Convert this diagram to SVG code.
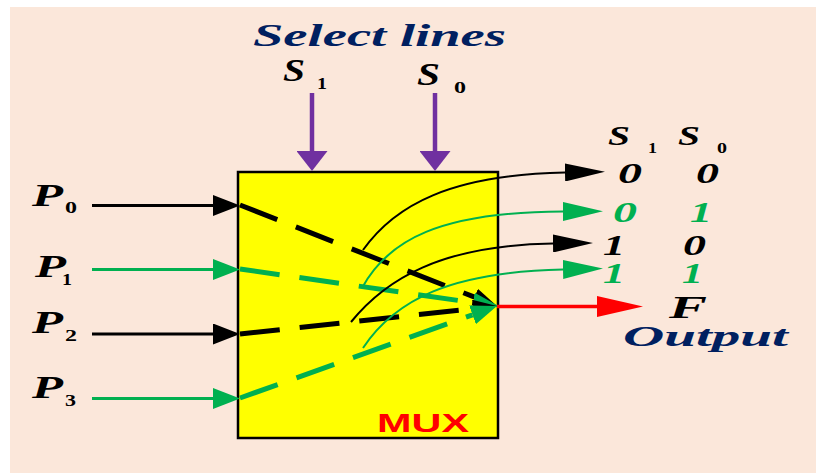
<svg xmlns="http://www.w3.org/2000/svg" width="816" height="473" viewBox="0 0 816 473">
<style>
.sym{font-family:"Liberation Serif","DejaVu Serif",serif;font-weight:bold;font-style:italic}
.sub{font-family:"Liberation Serif","DejaVu Serif",serif;font-weight:bold}
.title{font-family:"Liberation Serif","DejaVu Serif",serif;font-style:italic;fill:#002060}
.blk{fill:#000}
.grn{fill:#00B050}
.in{fill:none;stroke-width:3}
.dash{fill:none;stroke-width:5;stroke-dasharray:40 20}
.curve{fill:none;stroke-width:2}
</style>
<defs>
<marker id="aInK" markerUnits="userSpaceOnUse" viewBox="0 0 27 21" refX="0" refY="10.5" markerWidth="27" markerHeight="21" orient="auto"><path d="M0,0 L27,10.5 L0,21 Z" fill="#000"/></marker>
<marker id="aInG" markerUnits="userSpaceOnUse" viewBox="0 0 27 21" refX="0" refY="10.5" markerWidth="27" markerHeight="21" orient="auto"><path d="M0,0 L27,10.5 L0,21 Z" fill="#00B050"/></marker>
<marker id="aSel" markerUnits="userSpaceOnUse" viewBox="0 0 20 31" refX="0" refY="15.5" markerWidth="20" markerHeight="31" orient="auto"><path d="M0,0 L20,15.5 L0,31 Z" fill="#7030A0"/></marker>
<marker id="aOut" markerUnits="userSpaceOnUse" viewBox="0 0 46 21" refX="0" refY="10.5" markerWidth="46" markerHeight="21" orient="auto"><path d="M0,0 L46,10.5 L0,21 Z" fill="#FF0000"/></marker>
<marker id="aCvK" markerUnits="userSpaceOnUse" viewBox="0 0 40 18" refX="0" refY="9" markerWidth="40" markerHeight="18" orient="auto"><path d="M0,0 L40,9 L0,18 Z" fill="#000"/></marker>
<marker id="aCvG" markerUnits="userSpaceOnUse" viewBox="0 0 40 19" refX="0" refY="9.5" markerWidth="40" markerHeight="19" orient="auto"><path d="M0,0 L40,9.5 L0,19 Z" fill="#00B050"/></marker>
<marker id="aDK" markerUnits="userSpaceOnUse" viewBox="0 0 24 18" refX="0" refY="9" markerWidth="24" markerHeight="18" orient="auto"><path d="M0,0 L24,9 L0,18 Z" fill="#000"/></marker>
<marker id="aDG" markerUnits="userSpaceOnUse" viewBox="0 0 26 20" refX="0" refY="10" markerWidth="26" markerHeight="20" orient="auto"><path d="M0,0 L26,10 L0,20 Z" fill="#00B050"/></marker>
</defs>

<rect id="background" x="10" y="7" width="806" height="466" fill="#FBE7DA"/>

<g id="mux">
<rect x="238" y="172" width="260" height="266" fill="#FFFF00" stroke="#000" stroke-width="2.5"/>
<text x="377" y="432" font-family="Liberation Sans, Arial, sans-serif" font-weight="bold" font-size="26" fill="#FF0000" textLength="92" lengthAdjust="spacingAndGlyphs">MUX</text>
</g>

<g id="title">
<text class="title" x="253" y="46" font-size="32" font-weight="bold" textLength="253" lengthAdjust="spacingAndGlyphs">Select lines</text>
</g>

<g id="sel-s1">
<text class="sym blk" x="283" y="81" font-size="31" textLength="22" lengthAdjust="spacingAndGlyphs">S</text>
<text class="sub blk" x="317" y="89" font-size="17" textLength="10" lengthAdjust="spacingAndGlyphs">1</text>
</g>
<g id="sel-s0">
<text class="sym blk" x="417" y="85" font-size="31" textLength="23" lengthAdjust="spacingAndGlyphs">S</text>
<text class="sub blk" x="454" y="93" font-size="17" textLength="12" lengthAdjust="spacingAndGlyphs">0</text>
</g>

<g id="in-p0">
<text class="sym blk" x="32" y="206" font-size="32" textLength="31" lengthAdjust="spacingAndGlyphs">P</text>
<text class="sub blk" x="65" y="213" font-size="17" textLength="12" lengthAdjust="spacingAndGlyphs">0</text>
</g>
<g id="in-p1">
<text class="sym blk" x="35" y="277" font-size="32" textLength="31" lengthAdjust="spacingAndGlyphs">P</text>
<text class="sub blk" x="62" y="285" font-size="17" textLength="10" lengthAdjust="spacingAndGlyphs">1</text>
</g>
<g id="in-p2">
<text class="sym blk" x="32" y="333" font-size="32" textLength="31" lengthAdjust="spacingAndGlyphs">P</text>
<text class="sub blk" x="65" y="341" font-size="17" textLength="12" lengthAdjust="spacingAndGlyphs">2</text>
</g>
<g id="in-p3">
<text class="sym blk" x="32" y="398" font-size="32" textLength="31" lengthAdjust="spacingAndGlyphs">P</text>
<text class="sub blk" x="65" y="406" font-size="17" textLength="11" lengthAdjust="spacingAndGlyphs">3</text>
</g>

<g id="table">
<text class="sym blk" x="608" y="145" font-size="27" textLength="22" lengthAdjust="spacingAndGlyphs">S</text>
<text class="sub blk" x="648" y="153" font-size="15" textLength="9" lengthAdjust="spacingAndGlyphs">1</text>
<text class="sym blk" x="678" y="145" font-size="27" textLength="22" lengthAdjust="spacingAndGlyphs">S</text>
<text class="sub blk" x="717" y="153" font-size="15" textLength="10" lengthAdjust="spacingAndGlyphs">0</text>
<text class="sym blk" x="618" y="183" font-size="29" textLength="24" lengthAdjust="spacingAndGlyphs">0</text>
<text class="sym blk" x="696" y="183" font-size="29" textLength="23" lengthAdjust="spacingAndGlyphs">0</text>
<text class="sym grn" x="613" y="222" font-size="29" textLength="24" lengthAdjust="spacingAndGlyphs">0</text>
<text class="sym grn" x="690" y="222" font-size="29" textLength="22" lengthAdjust="spacingAndGlyphs">1</text>
<text class="sym blk" x="603" y="255" font-size="29" textLength="22" lengthAdjust="spacingAndGlyphs">1</text>
<text class="sym blk" x="683" y="255" font-size="29" textLength="23" lengthAdjust="spacingAndGlyphs">0</text>
<text class="sym grn" x="603" y="283" font-size="29" textLength="22" lengthAdjust="spacingAndGlyphs">1</text>
<text class="sym grn" x="682" y="283" font-size="29" textLength="21" lengthAdjust="spacingAndGlyphs">1</text>
</g>

<g id="output">
<text class="sym blk" x="669" y="318" font-size="32" textLength="38" lengthAdjust="spacingAndGlyphs">F</text>
<text class="title" x="623" y="346" font-size="29" font-weight="bold" textLength="165" lengthAdjust="spacingAndGlyphs">Output</text>
</g>

<g id="connectors">
<line x1="312" y1="93" x2="312" y2="151" stroke="#7030A0" stroke-width="4.5" marker-end="url(#aSel)"/>
<line x1="435" y1="93" x2="435" y2="151" stroke="#7030A0" stroke-width="4.5" marker-end="url(#aSel)"/>
<line class="in" x1="92" y1="205.5" x2="213" y2="205.5" stroke="#000" marker-end="url(#aInK)"/>
<line class="in" x1="92" y1="269.5" x2="213" y2="269.5" stroke="#00B050" marker-end="url(#aInG)"/>
<line class="in" x1="92" y1="334" x2="213" y2="334" stroke="#000" marker-end="url(#aInK)"/>
<line class="in" x1="92" y1="398.5" x2="213" y2="398.5" stroke="#00B050" marker-end="url(#aInG)"/>
<line class="dash" x1="240" y1="205" x2="474.6" y2="297.2" stroke="#000" marker-end="url(#aDK)"/>
<line class="dash" x1="240" y1="269" x2="473.2" y2="302.6" stroke="#00B050" marker-end="url(#aDG)"/>
<line class="dash" x1="240" y1="334" x2="473.1" y2="308.6" stroke="#000" marker-end="url(#aDK)"/>
<line class="dash" x1="240" y1="398" x2="472.5" y2="314.8" stroke="#00B050" marker-end="url(#aDG)"/>
<path class="curve" d="M363,250 C395,205 450,175 565,172.5" stroke="#000" marker-end="url(#aCvK)"/>
<path class="curve" d="M362,288 C388,240 440,212 563,211.5" stroke="#00B050" marker-end="url(#aCvG)"/>
<path class="curve" d="M351,322 C385,280 440,245 553,243.5" stroke="#000" marker-end="url(#aCvK)"/>
<path class="curve" d="M363,348 C395,300 450,272 563,269.5" stroke="#00B050" marker-end="url(#aCvG)"/>
<line x1="497" y1="306.5" x2="597" y2="306.5" stroke="#FF0000" stroke-width="3.5" marker-end="url(#aOut)"/>
</g>
</svg>
